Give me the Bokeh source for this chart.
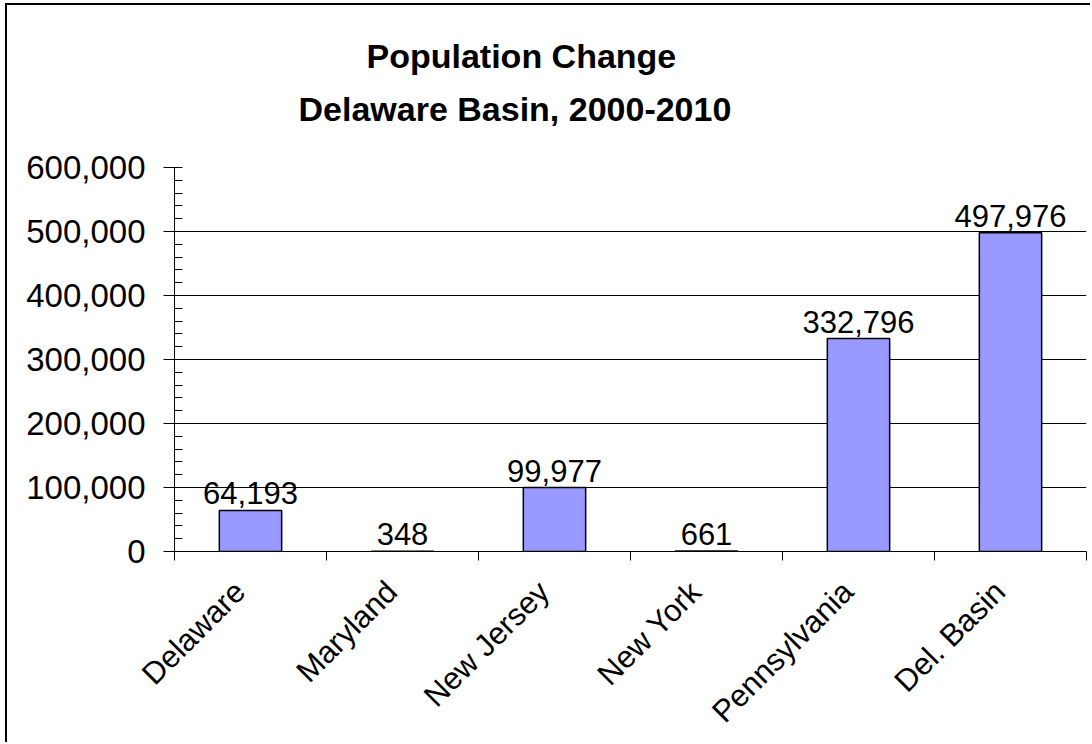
import math
from bokeh.plotting import figure
from bokeh.models import (Range1d, FixedTicker, SingleIntervalTicker,
                          NumeralTickFormatter, Title, ColumnDataSource)
from bokeh.core.properties import value
from bokeh.embed import file_html
from bokeh.resources import INLINE

categories = ["Delaware", "Maryland", "New Jersey", "New York", "Pennsylvania", "Del. Basin"]
changes = [64193, 348, 99977, 661, 332796, 497976]
y_tick_interval = 100000
y_max = 600000
title_line1 = "Population Change"
title_line2 = "Delaware Basin, 2000-2010"

FONT = "Liberation Sans"

x_pos = [i + 0.5 for i in range(len(categories))]
label_shift = 0.07
label_pos = [x - label_shift for x in x_pos]
labels = [f"{v:,}" for v in changes]
src = ColumnDataSource(dict(x=x_pos, top=changes, label=labels))

# canvas placed at (7, 5) of the page; the chart's outer frame is drawn as a
# 2px shadow just above / left of it (its right and bottom sides lie outside
# the window in the reference)
p = figure(width=1085, height=739, output_backend="svg", toolbar_location=None,
           title=None,
           x_range=Range1d(0, len(categories)), y_range=Range1d(0, y_max),
           min_border_left=167, min_border_right=6, min_border_top=162,
           min_border_bottom=193)
p.styles = {"margin-left": "7px", "margin-top": "5px",
            "box-shadow": "-2px -2px 0px 0px black"}

t2 = Title(text=title_line2, align="left", offset=124, standoff=80,
           text_font=FONT, text_font_size="34px", text_font_style="bold",
           text_color="black")
t1 = Title(text=title_line1, align="left", offset=192, standoff=-54,
           text_font=FONT, text_font_size="34px", text_font_style="bold",
           text_color="black")
p.add_layout(t2, "above")
p.add_layout(t1, "above")

p.outline_line_color = None
p.background_fill_color = "white"
p.border_fill_color = "white"

# bars
p.vbar(x="x", top="top", bottom=0, width=0.41, source=src,
       fill_color="#9999FF", line_color="black", line_width=1.5)

# data labels
p.text(x="x", y="top", text="label", source=src, y_offset=-17,
       text_align="center", text_baseline="alphabetic",
       text_font=value(FONT), text_font_size="31px", text_color="black")

# x axis: ticks at category boundaries, labels near centres
xa = p.xaxis[0]
xa.ticker = FixedTicker(ticks=label_pos, minor_ticks=list(range(len(categories) + 1)))
xa.major_label_overrides = {x: c for x, c in zip(label_pos, categories)}
xa.major_label_orientation = math.pi / 4
xa.major_tick_line_color = None
xa.major_tick_out = 0
xa.major_tick_in = 0
xa.minor_tick_line_color = "black"
xa.minor_tick_out = 9
xa.minor_tick_in = 0
xa.axis_line_color = "black"
xa.major_label_standoff = 26
xa.major_label_text_font = FONT
xa.major_label_text_font_size = "31px"
xa.major_label_text_color = "black"
p.xgrid.visible = False

# y axis
ya = p.yaxis[0]
ya.ticker = SingleIntervalTicker(interval=y_tick_interval, num_minor_ticks=5)
ya.formatter = NumeralTickFormatter(format="0,0")
ya.major_tick_out = 11
ya.major_tick_in = 0
ya.major_tick_line_color = "black"
ya.minor_tick_in = 8
ya.minor_tick_out = 0
ya.minor_tick_line_color = "black"
ya.axis_line_color = "black"
ya.major_label_standoff = 18
ya.major_label_text_font = FONT
ya.major_label_text_font_size = "33px"
ya.major_label_text_color = "black"

p.ygrid.ticker = SingleIntervalTicker(interval=y_tick_interval)
p.ygrid.grid_line_color = "black"
p.ygrid.grid_line_width = 1

open("out.html", "w").write(file_html(p, INLINE))
